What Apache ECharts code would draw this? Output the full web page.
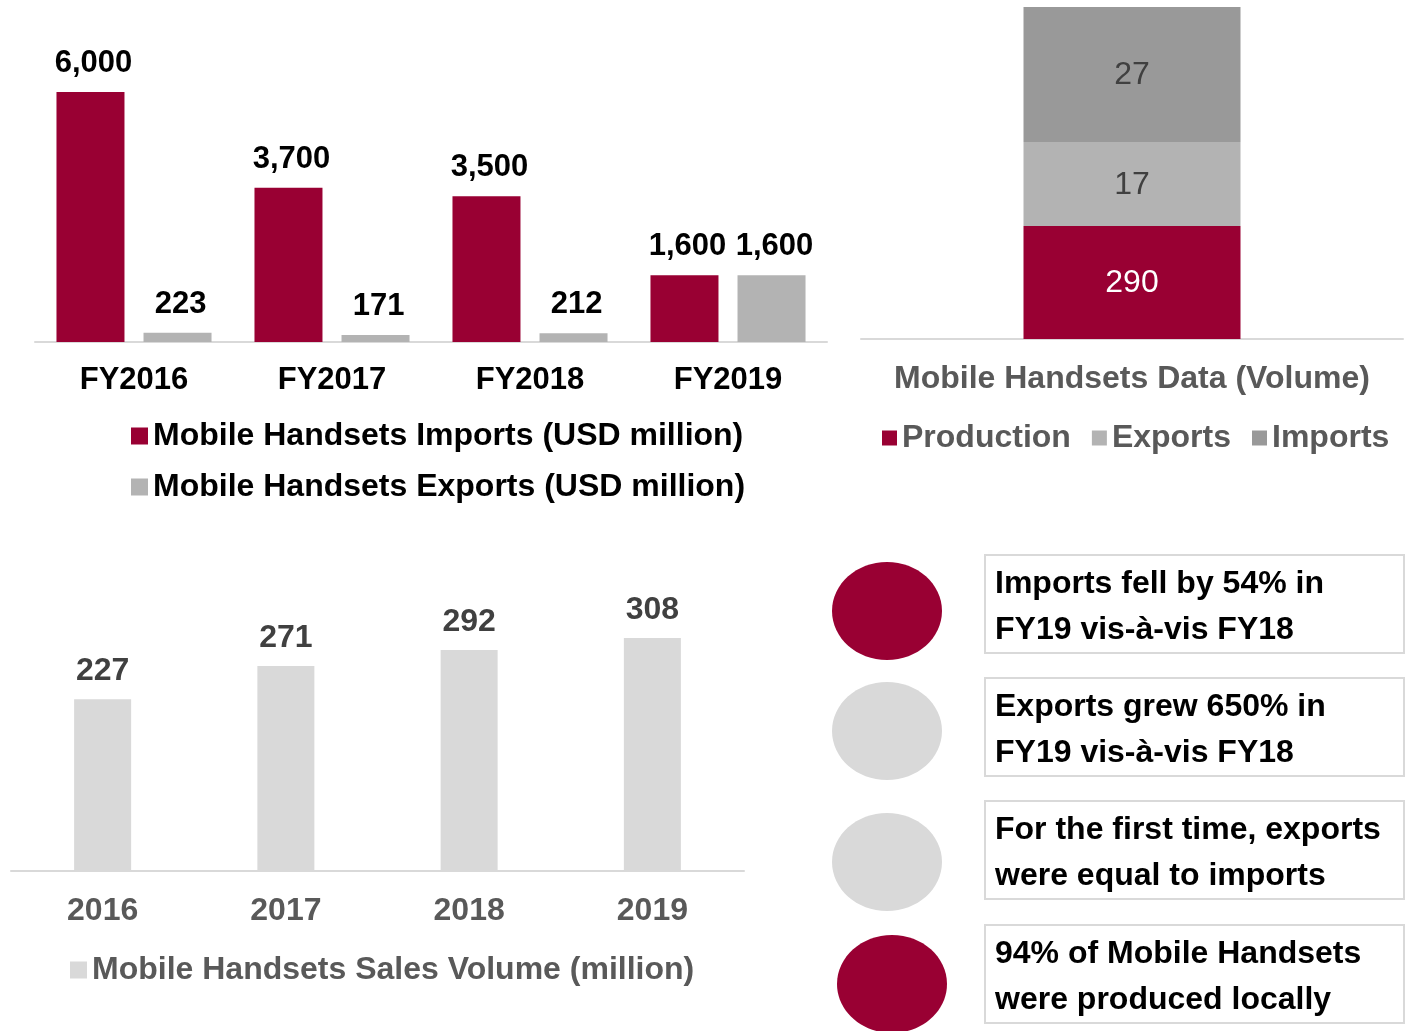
<!DOCTYPE html>
<html>
<head>
<meta charset="utf-8">
<script src="https://cdn.jsdelivr.net/npm/echarts@6/dist/echarts.min.js"></script>
<style>
  html, body { margin: 0; padding: 0; background: #fff; }
  #main { width: 1406px; height: 1031px; }
</style>
</head>
<body>
<div id="main"></div>
<script>
// trade values (USD million)
var fyYears = ['FY2016', 'FY2017', 'FY2018', 'FY2019'];
var importsUsd = [6000, 3700, 3500, 1600];
var exportsUsd = [223, 171, 212, 1600];

// volume stack: numbers printed in the picture, and each segment's share of the drawn bar
var volumeNames = ['Production', 'Exports', 'Imports'];
var volumeLabels = [290, 17, 27];
var volumeShare = [34, 25.3, 40.7]; // the source bar is not drawn to scale, so heights are read off it

// sales volume (million)
var salesYears = ['2016', '2017', '2018', '2019'];
var salesVolume = [227, 271, 292, 308];

var insights = [
  ['Imports fell by 54% in', 'FY19 vis-à-vis FY18'],
  ['Exports grew 650% in', 'FY19 vis-à-vis FY18'],
  ['For the first time, exports', 'were equal to imports'],
  ['94% of Mobile Handsets', 'were produced locally']
];
var insightColors = ['#990033', '#d9d9d9', '#d9d9d9', '#990033'];

var FONT = '"Liberation Sans", Arial, sans-serif';
var RED = '#990033';

var chart = echarts.init(document.getElementById('main'), null, { renderer: 'canvas' });

function boldText(color, size) {
  return { color: color, fontSize: size, fontWeight: 'bold', fontFamily: FONT };
}

// right side boxes + circles
var graphics = [];
var boxTops = [555, 678, 801, 925];
var circleCenters = [[887, 611], [887, 731], [887, 862], [892, 984]];
insights.forEach(function (lines, i) {
  graphics.push({
    type: 'ellipse',
    shape: { cx: circleCenters[i][0], cy: circleCenters[i][1], rx: 55, ry: 49 },
    style: { fill: insightColors[i] }
  });
  graphics.push({
    type: 'rect',
    shape: { x: 985, y: boxTops[i], width: 419, height: 98 },
    style: { fill: '#fff', stroke: '#d9d9d9', lineWidth: 2 }
  });
  lines.forEach(function (t, j) {
    graphics.push({
      type: 'text',
      x: 995,
      y: boxTops[i] + 29 + j * 46,
      style: {
        text: t, fill: '#000', fontSize: 32, fontWeight: 'bold', fontFamily: FONT,
        verticalAlign: 'middle', align: 'left'
      }
    });
  });
});

var option = {
  animation: false,
  textStyle: { fontFamily: FONT },
  grid: [
    { left: 35, width: 792, top: 92, height: 250 },
    { left: 861, width: 542, top: 7, height: 332 },
    { left: 11, width: 733, top: 638, height: 233 }
  ],
  xAxis: [
    {
      type: 'category', gridIndex: 0, data: fyYears,
      axisLine: { lineStyle: { color: '#d9d9d9', width: 2 } },
      axisTick: { show: false },
      axisLabel: Object.assign({ margin: 23 }, boldText('#000', 31))
    },
    {
      type: 'category', gridIndex: 1, data: ['Mobile Handsets Data (Volume)'],
      axisLine: { lineStyle: { color: '#d9d9d9', width: 2 } },
      axisTick: { show: false },
      axisLabel: Object.assign({ margin: 24 }, boldText('#595959', 32))
    },
    {
      type: 'category', gridIndex: 2, data: salesYears,
      axisLine: { lineStyle: { color: '#d9d9d9', width: 2 } },
      axisTick: { show: false },
      axisLabel: Object.assign({ margin: 24 }, boldText('#595959', 32))
    }
  ],
  yAxis: [
    { type: 'value', gridIndex: 0, min: 0, max: 6000, show: false },
    { type: 'value', gridIndex: 1, min: 0, max: 100, show: false },
    { type: 'value', gridIndex: 2, min: 0, max: 308, show: false }
  ],
  legend: [
    {
      data: ['Mobile Handsets Imports (USD million)', 'Mobile Handsets Exports (USD million)'],
      orient: 'vertical', left: 131, top: 420, padding: 0, itemWidth: 17, itemHeight: 17, itemGap: 19,
      icon: 'rect', textStyle: boldText('#000', 32)
    },
    {
      data: volumeNames,
      orient: 'horizontal', left: 882, top: 422, padding: 0, width: 524, itemWidth: 15, itemHeight: 15, itemGap: 21,
      icon: 'rect', textStyle: boldText('#595959', 32)
    },
    {
      data: ['Mobile Handsets Sales Volume (million)'],
      left: 70, top: 954, padding: 0, itemWidth: 17, itemHeight: 17,
      icon: 'rect', textStyle: boldText('#595959', 32)
    }
  ],
  series: [
    {
      name: 'Mobile Handsets Imports (USD million)', type: 'bar',
      xAxisIndex: 0, yAxisIndex: 0, data: importsUsd,
      barWidth: 68, barGap: '28%',
      itemStyle: { color: RED },
      label: Object.assign({ show: true, position: 'top', distance: 13, offset: [3, 0],
        formatter: function (p) { return p.value.toLocaleString('en-US'); } }, boldText('#000', 31))
    },
    {
      name: 'Mobile Handsets Exports (USD million)', type: 'bar',
      xAxisIndex: 0, yAxisIndex: 0, data: exportsUsd,
      barWidth: 68, barGap: '28%',
      itemStyle: { color: '#b3b3b3' },
      label: Object.assign({ show: true, position: 'top', distance: 13, offset: [3, 0],
        formatter: function (p) { return p.value.toLocaleString('en-US'); } }, boldText('#000', 31))
    }
  ].concat(volumeNames.map(function (name, i) {
    var colors = [RED, '#b3b3b3', '#999999'];
    return {
      name: name, type: 'bar', stack: 'vol',
      xAxisIndex: 1, yAxisIndex: 1, data: [volumeShare[i]],
      barWidth: 217,
      itemStyle: { color: colors[i] },
      label: {
        show: true, position: 'inside', fontSize: 32, fontFamily: FONT, offset: [0, 1],
        color: i === 0 ? '#fff' : '#404040',
        formatter: function () { return String(volumeLabels[i]); }
      }
    };
  })).concat([
    {
      name: 'Mobile Handsets Sales Volume (million)', type: 'bar',
      xAxisIndex: 2, yAxisIndex: 2, data: salesVolume,
      barWidth: 57,
      itemStyle: { color: '#d9d9d9' },
      label: Object.assign({ show: true, position: 'top', distance: 12 }, boldText('#404040', 32))
    }
  ]),
  graphic: graphics
};

chart.setOption(option);
</script>
</body>
</html>
